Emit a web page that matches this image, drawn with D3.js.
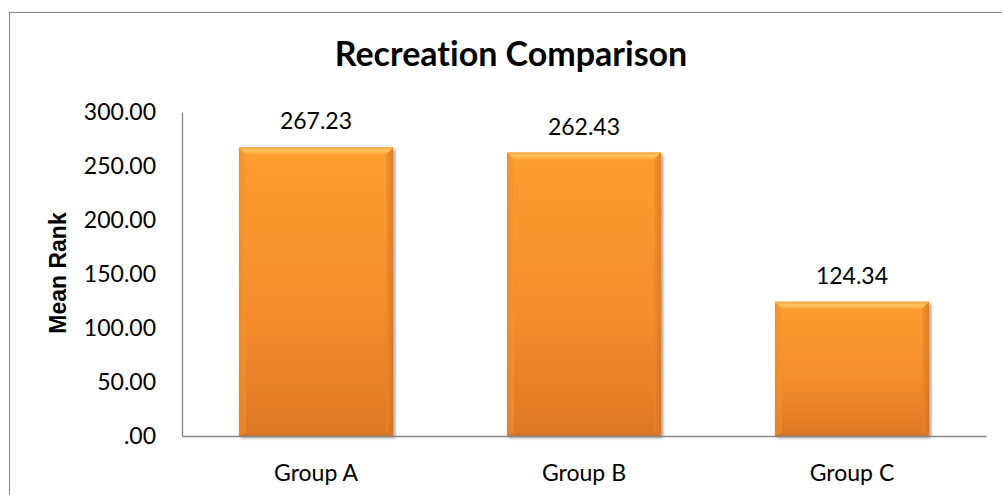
<!DOCTYPE html>
<html>
<head>
<meta charset="utf-8">
<script src="https://cdn.jsdelivr.net/npm/d3@7"></script>
<style>
  html, body { margin: 0; padding: 0; background: #fff; }
  svg { display: block; }
  text { font-family: Lato, "Open Sans", sans-serif; fill: #000; font-variant-ligatures: none; }
</style>
</head>
<body>
<svg id="chart" width="1002" height="495"></svg>
<script>
// Chart data
const categories = ["Group A", "Group B", "Group C"];
const meanRanks = [267.23, 262.43, 124.34];
const yTicks = [0, 50, 100, 150, 200, 250, 300];
const chartTitle = "Recreation Comparison";
const yAxisTitle = "Mean Rank";

const svg = d3.select("#chart");
const plot = { left: 182, right: 986, top: 112, bottom: 436 };

// Outer chart frame
svg.append("rect")
  .attr("x", 9.5).attr("y", 12.5)
  .attr("width", 1010).attr("height", 500)
  .attr("fill", "#fff").attr("stroke", "#868686").attr("stroke-width", 1);

const x = d3.scaleBand()
  .domain(categories)
  .range([plot.left, plot.right])
  .paddingInner(0.425)
  .paddingOuter(0.2125);

const y = d3.scaleLinear().domain([0, 300]).range([plot.bottom, plot.top]);

const fmt = v => v === 0 ? ".00" : d3.format(".2f")(v);

// Gradients and shadow
const defs = svg.append("defs");
const body = defs.append("linearGradient").attr("id", "barBody")
  .attr("x1", 0).attr("y1", 0).attr("x2", 0).attr("y2", 1);
body.append("stop").attr("offset", "0%").attr("stop-color", "#FD9E30");
body.append("stop").attr("offset", "55%").attr("stop-color", "#F48E2D");
body.append("stop").attr("offset", "100%").attr("stop-color", "#DF7826");

const topBevel = defs.append("linearGradient").attr("id", "topBevel")
  .attr("x1", 0).attr("y1", 0).attr("x2", 0).attr("y2", 1);
topBevel.append("stop").attr("offset", "0%").attr("stop-color", "#F3A23E");
topBevel.append("stop").attr("offset", "45%").attr("stop-color", "#FFC65E");
topBevel.append("stop").attr("offset", "100%").attr("stop-color", "#FCA43A");

const leftBevel = defs.append("linearGradient").attr("id", "leftBevel")
  .attr("x1", 0).attr("y1", 0).attr("x2", 1).attr("y2", 0);
leftBevel.append("stop").attr("offset", "0%").attr("stop-color", "#E58A2E");
leftBevel.append("stop").attr("offset", "100%").attr("stop-color", "#F59632");

const rightBevel = defs.append("linearGradient").attr("id", "rightBevel")
  .attr("x1", 0).attr("y1", 0).attr("x2", 1).attr("y2", 0);
rightBevel.append("stop").attr("offset", "0%").attr("stop-color", "#EC8A2A");
rightBevel.append("stop").attr("offset", "100%").attr("stop-color", "#C86E22");

const shadow = defs.append("filter").attr("id", "barShadow")
  .attr("x", "-10%").attr("y", "-10%").attr("width", "130%").attr("height", "130%");
shadow.append("feDropShadow")
  .attr("dx", 2).attr("dy", 2).attr("stdDeviation", 1.6)
  .attr("flood-color", "#000").attr("flood-opacity", 0.4);

// Title
svg.append("text")
  .attr("x", 511).attr("y", 66)
  .attr("text-anchor", "middle")
  .style("font-size", "34px").style("font-weight", "bold")
  .text(chartTitle);

// Y axis title
svg.append("text")
  .attr("transform", `translate(66,${(plot.top + plot.bottom) / 2 - 1}) rotate(-90)`)
  .attr("text-anchor", "middle")
  .style("font-family", "'Liberation Sans', Arial, sans-serif")
  .style("font-size", "23px").style("font-weight", "bold")
  .text(yAxisTitle);

// Y axis
const yAxis = svg.append("g")
  .attr("transform", `translate(${plot.left},0)`)
  .call(d3.axisLeft(y).tickValues(yTicks).tickFormat(fmt).tickSize(0).tickPadding(26));
yAxis.select(".domain").attr("stroke", "#868686").attr("stroke-width", 1.3);
yAxis.selectAll("text")
  .style("font-family", "Lato, sans-serif").style("font-size", "23px").attr("fill", "#000")
  .attr("dy", "0.34em");

// Bars with bevelled edges
const bev = 7;
const bars = svg.append("g").selectAll("g").data(meanRanks).join("g")
  .attr("filter", "url(#barShadow)");
bars.each(function (v, i) {
  const g = d3.select(this);
  const x0 = x(categories[i]), w = x.bandwidth();
  const y0 = y(v), y1 = y(0);
  const x1 = x0 + w;
  g.append("rect").attr("x", x0).attr("y", y0).attr("width", w).attr("height", y1 - y0)
    .attr("fill", "url(#barBody)");
  g.append("polygon").attr("points", [[x0, y0], [x1, y0], [x1 - bev, y0 + bev], [x0 + bev, y0 + bev]].join(" "))
    .attr("fill", "url(#topBevel)");
  g.append("polygon").attr("points", [[x0, y0], [x0 + bev, y0 + bev], [x0 + bev, y1 - 3], [x0, y1]].join(" "))
    .attr("fill", "url(#leftBevel)").attr("opacity", 0.55);
  g.append("polygon").attr("points", [[x1, y0], [x1, y1], [x1 - bev, y1 - 3], [x1 - bev, y0 + bev]].join(" "))
    .attr("fill", "url(#rightBevel)").attr("opacity", 0.6);
  g.append("polygon").attr("points", [[x0, y1], [x0 + bev, y1 - 3], [x1 - bev, y1 - 3], [x1, y1]].join(" "))
    .attr("fill", "#C96E22").attr("opacity", 0.5);
});

// X axis
const xAxis = svg.append("g")
  .attr("transform", `translate(0,${plot.bottom})`)
  .call(d3.axisBottom(x).tickSize(0).tickPadding(29));
xAxis.select(".domain").attr("stroke", "#868686").attr("stroke-width", 1.3);
xAxis.selectAll("text")
  .style("font-family", "Lato, sans-serif").style("font-size", "23px").attr("fill", "#000");

// Value labels
svg.append("g").selectAll("text").data(meanRanks).join("text")
  .attr("x", (d, i) => x(categories[i]) + x.bandwidth() / 2)
  .attr("y", d => y(d) - 18)
  .attr("text-anchor", "middle")
  .style("font-size", "23px")
  .text(d => d3.format(".2f")(d));
</script>
</body>
</html>
